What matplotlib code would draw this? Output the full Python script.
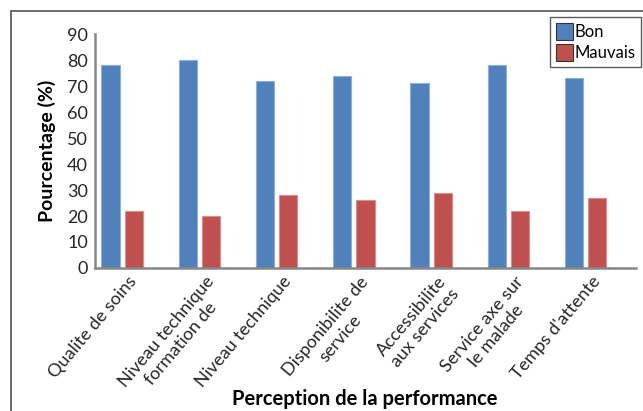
import matplotlib.pyplot as plt
from matplotlib.patches import Rectangle
import matplotlib.transforms as mtransforms
import numpy as np

plt.rcParams['font.family'] = ['Lato', 'DejaVu Sans']

categories = [
    "Qualite de soins",
    "Niveau technique\nformation de",
    "Niveau technique",
    "Disponibilite de\nservice",
    "Accessibilite\naux services",
    "Service axe sur\nle malade",
    "Temps d'attente",
]
bon = [78, 80, 72, 74, 71, 78, 73]
mauvais = [22, 20, 28, 26, 29, 22, 27]

fig = plt.figure(figsize=(6.43, 4.11), dpi=100)
ax = fig.add_axes([0.1477, 0.348, 0.8413, 0.569])

x = np.arange(len(categories))
w = 0.235
ax.bar(x - 0.3, bon, w, color="#4F81BD", edgecolor="#8DB0DB", linewidth=0.8, label="Bon")
ax.bar(x, mauvais, w, color="#C0504D", edgecolor="#DC8E8C", linewidth=0.8, label="Mauvais")

ax.set_xlim(-0.5, len(categories) - 0.5)
ax.set_ylim(0, 90)
ax.set_yticks(range(0, 91, 10))
ax.tick_params(axis="y", length=0, labelsize=13, pad=5, colors="#262626")
ax.set_xticks(x)
ax.set_xticklabels(categories, rotation=50, ha="right", va="top",
                   rotation_mode="anchor", fontsize=13, multialignment="center",
                   color="#262626")
ax.tick_params(axis="x", length=0, pad=4)
# nudge the slanted labels a little to the left of each tick
shift = mtransforms.ScaledTranslation(-6 / 100, 0, fig.dpi_scale_trans)
for lbl in ax.get_xticklabels():
    lbl.set_transform(lbl.get_transform() + shift)

for s in ("top", "right"):
    ax.spines[s].set_visible(False)
for s in ("left", "bottom"):
    ax.spines[s].set_color("#878787")
    ax.spines[s].set_linewidth(1.8)

ax.set_ylabel("Pourcentage (%)", fontsize=14, fontweight="bold", labelpad=8)
fig.text(0.568, 0.03, "Perception de la performance", fontsize=14.5,
         fontweight="bold", ha="center", va="center")

leg = fig.legend(loc="upper right", bbox_to_anchor=(0.997, 0.958), fontsize=12,
                 frameon=True, fancybox=False, edgecolor="#333333",
                 handlelength=1.0, handleheight=1.2, handletextpad=0.1,
                 borderpad=0.35, labelspacing=0.2, borderaxespad=0)
leg.get_frame().set_linewidth(1.0)
for h in leg.legend_handles:
    h.set_edgecolor("#333333")
    h.set_linewidth(0.8)

# outer frame around the whole chart
fig.patches.append(Rectangle((11 / 643, -0.1), 1.2, 1 - 11 / 411 + 0.1,
                             transform=fig.transFigure, fill=False,
                             edgecolor="#555555", linewidth=1.2))

fig.savefig("out.png", dpi=100)
